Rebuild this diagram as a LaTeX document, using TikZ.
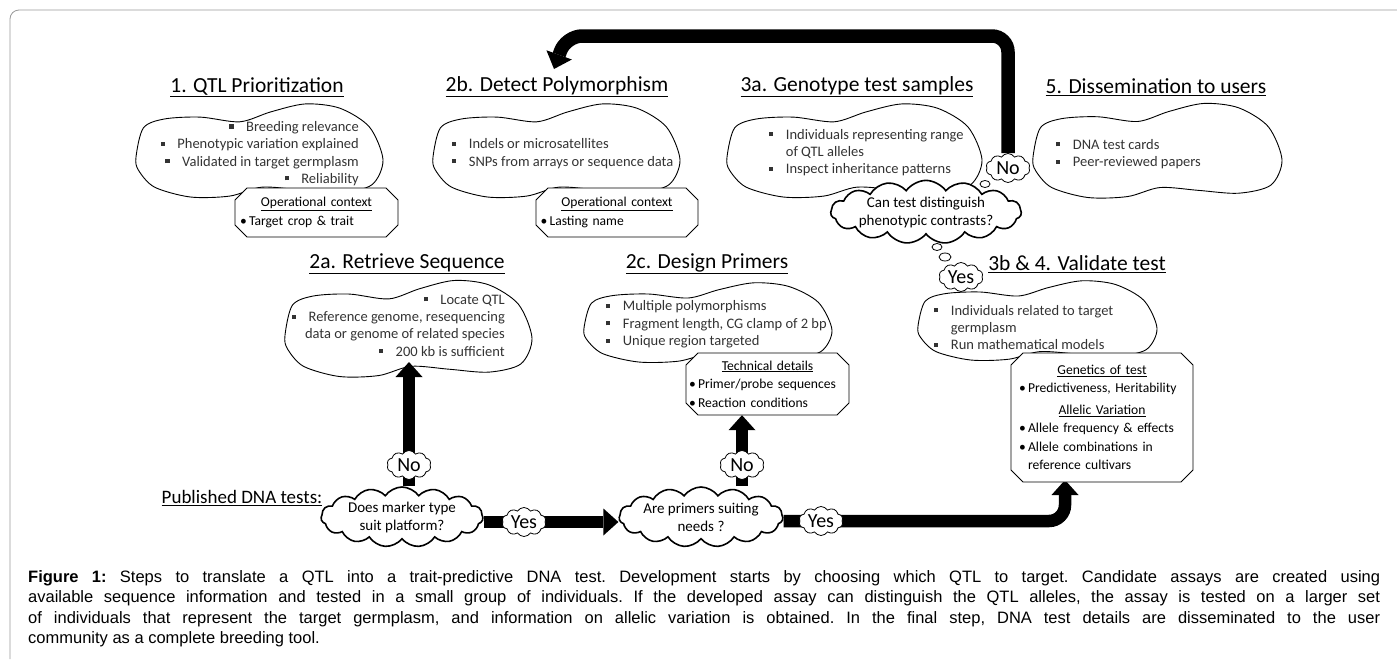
\documentclass[tikz,border=0pt]{standalone}
\usepackage{fontspec}
\setmainfont{Carlito}
\newfontfamily\capfont{Liberation Sans}
\usetikzlibrary{arrows.meta,shapes.symbols,backgrounds}
\newcommand\sqb{\makebox[1.15em][l]{\rule[0.2em]{0.28em}{0.28em}}}
\newcommand\sqi{\hspace*{1.15em}}
\newcommand\peanut[4]{%
  \begin{scope}[shift={(#1,#2)},xscale=#3,yscale=#4]
    \draw[blobline] plot[smooth cycle] coordinates {(-1,0.15) (-0.94,-0.47) (-0.77,-0.66) (-0.48,-0.7) (-0.16,-0.6) (0.09,-0.81) (0.37,-0.98) (0.65,-0.89) (0.89,-0.49) (1,0.21) (0.91,0.74) (0.65,0.91) (0.33,0.85) (0.02,0.79) (-0.24,0.98) (-0.56,1) (-0.85,0.79) (-0.98,0.43)};
  \end{scope}}
\newcommand\octagon[4]{%
  \begin{scope}[shift={(#1,#2)}]
    \filldraw[octline] ({-#3/2+12},{-#4/2}) -- ({#3/2-12},{-#4/2}) -- ({#3/2},{-#4/2+12}) -- ({#3/2},{#4/2-12})
      -- ({#3/2-12},{#4/2}) -- ({-#3/2+12},{#4/2}) -- ({-#3/2},{#4/2-12}) -- ({-#3/2},{-#4/2+12}) -- cycle;
  \end{scope}}
\begin{document}
\begin{tikzpicture}[x=1pt,y=-1pt,
    title/.style={font=\fontsize{21.5}{24}\selectfont,inner sep=1pt},
    blobtext/.style={font=\fontsize{14.5}{17.3}\selectfont,text=black!80,inner sep=0pt},
    blobline/.style={line width=0.9pt},
    octline/.style={line width=0.8pt,fill=white},
    octtext/.style={inner sep=0pt,align=left,font=\fontsize{13.6}{18.5}\selectfont},
    decide/.style={cloud,cloud puffs=15,cloud puff arc=110,cloud ignores aspect,draw,fill=white,
      line width=1.6pt,inner sep=0pt,align=center,font=\fontsize{15}{18}\selectfont},
    answer/.style={cloud,cloud puffs=10,cloud puff arc=115,cloud ignores aspect,draw,fill=white,
      line width=0.8pt,inner sep=0pt,minimum width=44pt,minimum height=29pt,font=\fontsize{20}{22}\selectfont},
    bigarrow/.style={line width=12.5pt,-{Triangle[width=27pt,length=15pt,line width=0pt]}}]
  \useasboundingbox (0,0) rectangle (1397,659);
  \draw[black!40,line width=0.8pt,rounded corners=9pt] (10,659) -- (10,10) -- (1397,10);

  \node[title] (t1) at (257,87) {\underline{1. QTL Prioritization}};
  \node[title] (t2b) at (557,87) {\underline{2b. Detect Polymorphism}};
  \node[title] (t3a) at (857,87) {\underline{3a. Genotype test samples}};
  \node[title] (t5) at (1156,87) {\underline{5. Dissemination to users}};
  \node[title] (t2a) at (407,264) {\underline{2a. Retrieve Sequence}};
  \node[title] (t2c) at (707,264) {\underline{2c. Design Primers}};
  \node[title] (t34) at (1077,264) {\underline{3b \& 4. Validate test}};

  \peanut{259.5}{150}{123.5}{47}
  \peanut{556.5}{150}{123.5}{47}
  \peanut{854.5}{150}{127.5}{47}
  \peanut{1157.5}{150}{124.5}{47.5}
  \peanut{408.5}{328}{123.5}{48.5}
  \peanut{708}{322}{124}{40}
  \peanut{1037.5}{320}{119.5}{40}

  \node[blobtext,align=right,anchor=east] (prio) at (359,153.5) {\sqb Breeding relevance\\ \sqb Phenotypic variation explained\\ \sqb Validated in target germplasm\\ \sqb Reliability};
  \node[blobtext,align=left,anchor=west] (poly) at (452,153.5) {\sqb Indels or microsatellites\\ \sqb SNPs from arrays or sequence data};
  \node[blobtext,align=left,anchor=west] (geno) at (769,152.5) {\sqb Individuals representing range\\ \sqi of QTL alleles\\ \sqb Inspect inheritance patterns};
  \node[blobtext,align=left,anchor=west] (diss) at (1056,154) {\sqb DNA test cards\\ \sqb Peer-reviewed papers};
  \node[blobtext,align=right,anchor=east] (ret) at (505,325.5) {\sqb Locate QTL\\ \sqb Reference genome, resequencing\\ data or genome of related species\\ \sqb 200 kb is sufficient};
  \node[blobtext,align=left,anchor=west] (prim) at (606,324.5) {\sqb Multiple polymorphisms\\ \sqb Fragment length, CG clamp of 2 bp\\ \sqb Unique region targeted};
  \node[blobtext,align=left,anchor=west] (valid) at (934,327.5) {\sqb Individuals related to target\\ \sqi germplasm\\ \sqb Run mathematical models};

  \octagon{316.5}{212.5}{163}{49}
  \node[octtext,text width=153pt,minimum height=49pt] (o1) at (316.5,212.5)
    {{\centering\underline{Operational context}\par}•\,Target crop \& trait};
  \octagon{617}{212.5}{162}{49}
  \node[octtext,text width=153pt,minimum height=49pt] (o2) at (617,212.5)
    {{\centering\underline{Operational context}\par}•\,Lasting name};
  \octagon{767.5}{384}{163}{62}
  \node[octtext,text width=157pt,minimum height=62pt] (o3) at (767.5,384)
    {{\centering\underline{Technical details}\par}•\,Primer/probe sequences\par •\,Reaction conditions};
  \octagon{1102}{417.5}{182}{129}
  \node[octtext,text width=166pt,minimum height=129pt] (o4) at (1102,417.5)
    {{\centering\underline{Genetics of test}\par}•\,Predictiveness, Heritability\par\vspace{3pt}
     {\centering\underline{Allelic Variation}\par}•\,Allele frequency \& effects\par •\,Allele combinations in\par \hphantom{•\,}reference cultivars};

  \node[font=\fontsize{19}{21}\selectfont,inner sep=1pt] (pub) at (242,498) {\underline{Published DNA tests:}};
  \node[decide,minimum width=162pt,minimum height=60pt] (c1) at (402,517) {Does marker type\\suit platform?};
  \node[decide,minimum width=162pt,minimum height=60pt] (c2) at (701,517) {Are primers suiting\\needs ?};
  \node[decide,minimum width=170pt,minimum height=50pt] (c3) at (926,212) {Can test distinguish\\phenotypic contrasts?};

  \node[answer] (no1) at (409,465) {No};
  \node[answer] (no2) at (742,465) {No};
  \node[answer] (yes1) at (524,522) {Yes};
  \node[answer] (yes2) at (821,521) {Yes};
  \node[answer] (no3) at (1008,168) {No};
  \node[answer] (yes3) at (961,277) {Yes};
  \draw[line width=0.8pt] (985,184) ellipse (5 and 3.5);
  \draw[line width=0.8pt] (937,247) ellipse (5 and 3.5);
  \draw[line width=0.8pt] (945,257) ellipse (6 and 4);

  \coordinate (retin) at (408,362);
  \coordinate (valin) at (1065,480);
  \coordinate (fbturn) at (566,36);
  \coordinate (fbend) at (554,69);
  \begin{scope}[on background layer]
    \draw[bigarrow] (c1.east |- yes1) -- (c2.west |- yes1);
    \draw[bigarrow] (no1 |- c1.north) -- (no1 |- retin);
    \draw[bigarrow] (no2 |- c2.north) -- (no2 |- o3.south);
    \draw[bigarrow,rounded corners=16pt] (c2.east |- yes2) -| (valin);
    \draw[bigarrow,line width=13.5pt,rounded corners=16pt] (no3.north) |- (fbturn) -- (fbend);
  \end{scope}

  \node[anchor=north west,text width=1352pt,align=justify,inner sep=0pt,
    font=\capfont\fontsize{16.5}{20.5}\selectfont\frenchspacing] (cap) at (28,570)
    {\textbf{Figure 1:} Steps to translate a QTL into a trait-predictive DNA test. Development starts by choosing which QTL to target. Candidate assays are created using\linebreak
     available sequence information and tested in a small group of individuals. If the developed assay can distinguish the QTL alleles, the assay is tested on a larger set\linebreak
     of individuals that represent the target germplasm, and information on allelic variation is obtained. In the final step, DNA test details are disseminated to the user\linebreak
     community as a complete breeding tool.};
\end{tikzpicture}
\end{document}
